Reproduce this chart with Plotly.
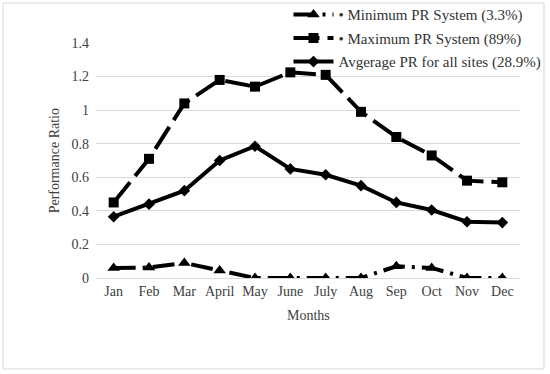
import plotly.graph_objects as go

months = ["Jan", "Feb", "Mar", "April", "May", "June", "July", "Aug", "Sep", "Oct", "Nov", "Dec"]
min_pr = [0.06, 0.062, 0.09, 0.045, 0.0, 0.0, 0.0, 0.0, 0.07, 0.06, 0.0, 0.0]
max_pr = [0.45, 0.71, 1.04, 1.18, 1.14, 1.225, 1.21, 0.99, 0.84, 0.73, 0.58, 0.57]
avg_pr = [0.365, 0.44, 0.52, 0.70, 0.785, 0.65, 0.615, 0.55, 0.45, 0.405, 0.335, 0.33]
names = ["\u2022 Minimum PR System (3.3%)", "\u2022 Maximum PR System (89%)", "Avgerage PR for all sites (28.9%)"]
y_ticks = [0, 0.2, 0.4, 0.6, 0.8, 1, 1.2, 1.4]
y_labels = ["0", "0.2", "0.4", "0.6", "0.8", "1", "1.2", "1.4"]

font = "Liberation Serif, Times New Roman, serif"
txt = "#404040"

fig = go.Figure()
fig.add_trace(go.Scatter(x=months, y=min_pr, name=names[0], mode="lines+markers",
                         line=dict(color="black", width=4, dash="22px,7px,3px,7px"),
                         marker=dict(symbol="triangle-up", size=11, color="black"),
                         legendgroup="a"))
fig.add_trace(go.Scatter(x=months, y=max_pr, name=names[1], mode="lines+markers",
                         line=dict(color="black", width=4, dash="26px,8px"),
                         marker=dict(symbol="square", size=10, color="black"),
                         legendgroup="b"))
fig.add_trace(go.Scatter(x=months, y=avg_pr, name=names[2], mode="lines+markers",
                         line=dict(color="black", width=4),
                         marker=dict(symbol="diamond", size=9, color="black"),
                         legendgroup="c"))

fig.update_layout(
    width=550, height=374,
    margin=dict(l=96, r=30, t=43, b=96, autoexpand=False),
    paper_bgcolor="white", plot_bgcolor="white",
    font=dict(family=font, size=14, color=txt),
    showlegend=True,
    legend=dict(x=0.454, y=1.19, xanchor="left", yanchor="top",
                bgcolor="rgba(0,0,0,0)", font=dict(size=15, color="#333333"),
                traceorder="grouped", tracegroupgap=1, itemwidth=40),
    xaxis=dict(range=[-0.5, 11.5], showgrid=False, showline=True, linecolor="#d9d9d9", linewidth=1,
               ticks="", automargin=False, tickfont=dict(size=14, color=txt)),
    yaxis=dict(range=[0, 1.4], tickvals=y_ticks, ticktext=y_labels,
               showgrid=True, gridcolor="#d9d9d9", gridwidth=1, zeroline=False,
               ticks="", automargin=False, ticklabelstandoff=6,
               tickfont=dict(size=14, color=txt)),
    annotations=[
        dict(text="Months", xref="paper", yref="paper", x=0.5, y=-0.158,
             xanchor="center", yanchor="middle", showarrow=False,
             font=dict(size=14, color=txt)),
        dict(text="Performance Ratio", xref="paper", yref="paper", x=-0.097, y=0.5,
             xanchor="center", yanchor="middle", textangle=-90, showarrow=False,
             font=dict(size=14, color=txt)),
    ],
    shapes=[dict(type="rect", xref="paper", yref="paper",
                 x0=-0.219, x1=1.0566, y0=-0.387, y1=1.170,
                 line=dict(color="#d9d9d9", width=1), fillcolor="rgba(0,0,0,0)", layer="below")],
)

fig.write_html("out.html", config={"displayModeBar": False},
               post_script="document.body.style.margin='0';")
